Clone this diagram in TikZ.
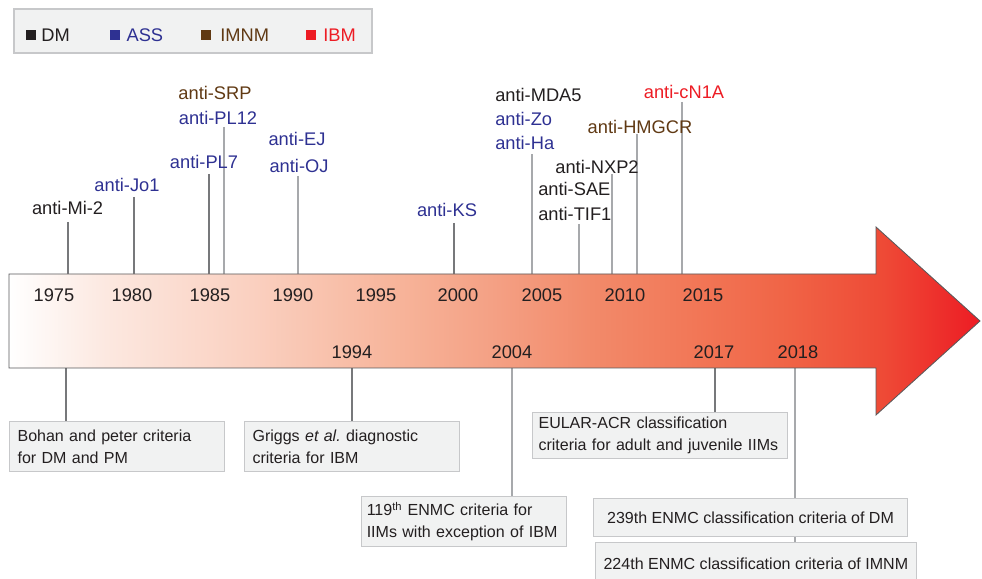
\documentclass[tikz,border=0pt]{standalone}
\usepackage{fontspec}
\setmainfont{Liberation Sans}
\usetikzlibrary{positioning}

\definecolor{dmcol}{HTML}{231F20}
\definecolor{asscol}{HTML}{2E3192}
\definecolor{imnmcol}{HTML}{603913}
\definecolor{ibmcol}{HTML}{ED1C24}
\definecolor{arrowline}{HTML}{58595B}
\definecolor{tickdark}{HTML}{77787B}
\definecolor{ticklight}{HTML}{A7A9AC}
\definecolor{boxfill}{HTML}{F1F2F2}
\definecolor{boxline}{HTML}{C7C8CA}
% tonos del degradado
\definecolor{grad10}{HTML}{FCE8E0}
\definecolor{grad25}{HTML}{FAD0C0}
\definecolor{grad40}{HTML}{F7B49A}
\definecolor{grad50}{HTML}{F4A084}
\definecolor{grad60}{HTML}{F28A6A}
\definecolor{grad70}{HTML}{F27858}
\definecolor{grad80}{HTML}{F06446}
\definecolor{grad90}{HTML}{EE4A36}
\pgfdeclarehorizontalshading{timeline}{100bp}{color(0bp)=(white); color(25bp)=(white);
  color(30bp)=(grad10); color(37.5bp)=(grad25); color(45bp)=(grad40); color(50bp)=(grad50);
  color(55bp)=(grad60); color(60bp)=(grad70); color(65bp)=(grad80); color(70bp)=(grad90);
  color(75bp)=(ibmcol); color(100bp)=(ibmcol)}

\tikzset{
  lab/.style={inner sep=0pt, font=\fontsize{13}{16}\selectfont},
  dmlab/.style={lab, text=dmcol},
  asslab/.style={lab, text=asscol},
  imnmlab/.style={lab, text=imnmcol},
  ibmlab/.style={lab, text=ibmcol},
  darktick/.style={draw=tickdark, line width=1.9pt},
  lighttick/.style={draw=ticklight, line width=1.9pt},
  critbox/.style={draw=boxline, fill=boxfill, line width=0.8pt, anchor=north west,
    inner xsep=0.2cm, inner ysep=0pt, font=\fontsize{11.4}{15.6}\selectfont, text=dmcol},
  legsq/.style={minimum size=0.25cm, inner sep=0pt},
}

\begin{document}
\begin{tikzpicture}
\useasboundingbox (0,0) rectangle (24.55,14.475);
% Leyenda
\draw[fill=boxfill, draw=boxline, line width=0.8pt] (0.35,13.15) rectangle (9.3,14.25);
\node[legsq, fill=dmcol] (dmsq) at (0.775,13.6) {};
\node[dmlab, right=0.12cm of dmsq] (dmleg) {DM};
\node[legsq, fill=asscol] (asssq) at (2.875,13.6) {};
\node[asslab, right=0.15cm of asssq] (assleg) {ASS};
\node[legsq, fill=imnmcol] (imnmsq) at (5.15,13.6) {};
\node[imnmlab, right=0.22cm of imnmsq] (imnmleg) {IMNM};
\node[legsq, fill=ibmcol] (ibmsq) at (7.775,13.6) {};
\node[ibmlab, right=0.17cm of ibmsq] (ibmleg) {IBM};

% bordes de la flecha
\coordinate (top) at (0.225,7.625);
\coordinate (bot) at (0.225,5.275);

% marcas de anticuerpos
\coordinate (mi2tip) at (1.7,8.925);
\coordinate (jo1tip) at (3.35,9.55);
\coordinate (pl7tip) at (5.225,10.125);
\coordinate (pl12tip) at (5.6,11.3);
\coordinate (ejtip) at (7.45,10.075);
\coordinate (kstip) at (11.35,8.9);
\coordinate (mda5tip) at (13.3,10.625);
\coordinate (tif1tip) at (14.475,8.875);
\coordinate (nxp2tip) at (15.3,10.125);
\coordinate (hmgcrtip) at (15.925,11.125);
\coordinate (cn1atip) at (17.05,11.925);
\draw[darktick] (mi2tip) -- (mi2tip |- top);
\draw[darktick] (jo1tip) -- (jo1tip |- top);
\draw[darktick] (pl7tip) -- (pl7tip |- top);
\draw[lighttick] (pl12tip) -- (pl12tip |- top);
\draw[lighttick] (ejtip) -- (ejtip |- top);
\draw[darktick] (kstip) -- (kstip |- top);
\draw[lighttick] (mda5tip) -- (mda5tip |- top);
\draw[lighttick] (tif1tip) -- (tif1tip |- top);
\draw[lighttick] (nxp2tip) -- (nxp2tip |- top);
\draw[lighttick] (hmgcrtip) -- (hmgcrtip |- top);
\draw[lighttick] (cn1atip) -- (cn1atip |- top);

\node[dmlab] (mi2) at (1.69,9.275) {anti-Mi-2};
\node[asslab] (jo1) at (3.175,9.85) {anti-Jo1};
\node[asslab] (pl7) at (5.1,10.425) {anti-PL7};
\node[asslab] (pl12) at (5.45,11.525) {anti-PL12};
\node[imnmlab] (srp) at (5.375,12.15) {anti-SRP};
\node[asslab] (ej) at (7.425,11.0) {anti-EJ};
\node[asslab] (oj) at (7.475,10.325) {anti-OJ};
\node[asslab] (ks) at (11.175,9.225) {anti-KS};
\node[dmlab, anchor=west] (mda5) at (12.375,12.1) {anti-MDA5};
\node[asslab, anchor=west] (zo) at (12.375,11.5) {anti-Zo};
\node[asslab, anchor=west] (ha) at (12.375,10.9) {anti-Ha};
\node[dmlab, anchor=west] (sae) at (13.45,9.75) {anti-SAE};
\node[dmlab, anchor=west] (tif1) at (13.45,9.125) {anti-TIF1};
\node[dmlab] (nxp2) at (14.925,10.3) {anti-NXP2};
\node[imnmlab] (hmgcr) at (16.0,11.3) {anti-HMGCR};
\node[ibmlab] (cn1a) at (17.1,12.175) {anti-cN1A};

% lineas de criterios
\coordinate (m1975) at (1.65,5.275);
\coordinate (m1994) at (8.8,5.275);
\coordinate (m2004) at (12.8,5.275);
\coordinate (m2017) at (17.875,5.275);
\coordinate (m2018) at (19.875,5.275);
\node[critbox, text width=4.975cm, minimum height=1.25cm] (bohan) at (0.225,3.95)
  {Bohan and peter criteria\\for DM and PM};
\node[critbox, text width=4.975cm, minimum height=1.25cm] (griggs) at (6.1,3.95)
  {Griggs \textit{et al.}\ diagnostic\\criteria for IBM};
\node[critbox, inner xsep=0.13cm, text width=4.865cm, minimum height=1.25cm] (enmc119) at (9.025,2.075)
  {119\textsuperscript{th} ENMC criteria for\\IIMs with exception of IBM};
\node[critbox, inner xsep=0.15cm, text width=6.075cm, minimum height=1.15cm] (eular) at (13.3,4.175)
  {EULAR-ACR classification\\criteria for adult and juvenile IIMs};
\draw[darktick] (m1975) -- (m1975 |- bohan.north);
\draw[darktick] (m1994) -- (m1994 |- griggs.north);
\draw[lighttick] (m2004) -- (m2004 |- enmc119.north);
\draw[darktick] (m2017) -- (m2017 |- eular.north);
\draw[lighttick] (m2018) -- (m2018 |- 0,0.925);
\node[critbox, align=center, minimum width=7.85cm, minimum height=0.95cm] (enmc239) at (14.825,2.025)
  {239th ENMC classification criteria of DM};
\node[critbox, align=center, minimum width=7.8cm, minimum height=1.05cm] (enmc224) at (14.875,0.925)
  {224th ENMC classification criteria of IMNM};

% flecha del tiempo
\shadedraw[shading=timeline, draw=arrowline, line width=0.6pt]
  (0.225,5.275) -- (0.225,7.625) -- (21.9,7.625) -- (21.9,8.8) -- (24.5,6.45)
  -- (21.9,4.1) -- (21.9,5.275) -- cycle;

% anos
\node[dmlab] (y1975) at (1.35,7.1) {1975};
\node[dmlab] (y1980) at (3.3,7.1) {1980};
\node[dmlab] (y1985) at (5.25,7.1) {1985};
\node[dmlab] (y1990) at (7.325,7.1) {1990};
\node[dmlab] (y1995) at (9.4,7.1) {1995};
\node[dmlab] (y2000) at (11.45,7.1) {2000};
\node[dmlab] (y2005) at (13.55,7.1) {2005};
\node[dmlab] (y2010) at (15.625,7.1) {2010};
\node[dmlab] (y2015) at (17.575,7.1) {2015};
\node[dmlab] (y1994) at (8.8,5.675) {1994};
\node[dmlab] (y2004) at (12.8,5.675) {2004};
\node[dmlab] (y2017) at (17.85,5.675) {2017};
\node[dmlab] (y2018) at (19.95,5.675) {2018};
\end{tikzpicture}
\end{document}
